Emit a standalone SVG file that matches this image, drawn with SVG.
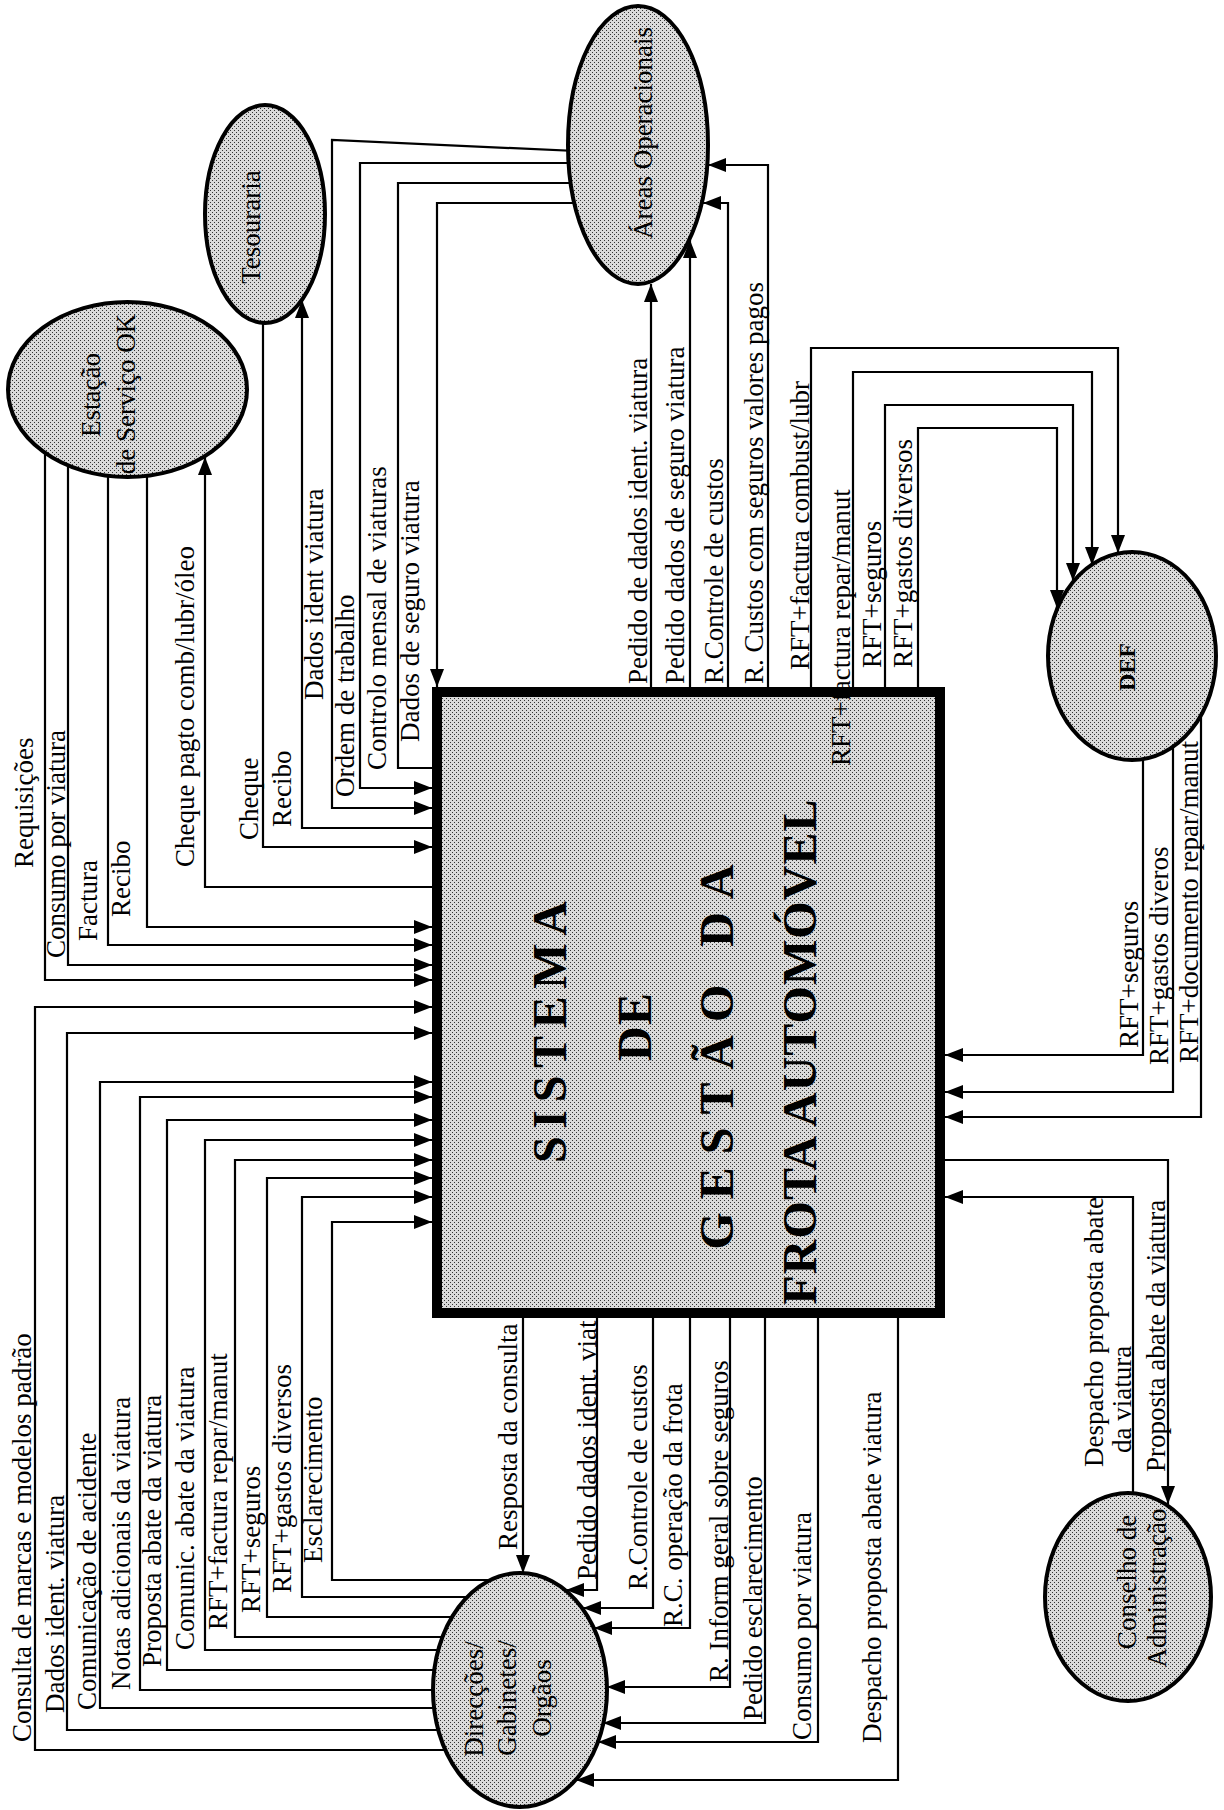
<svg xmlns="http://www.w3.org/2000/svg" width="1224" height="1810" viewBox="0 0 1224 1810">
  <defs>
    <!-- halftone fill used by the processes and external entities -->
    <pattern id="ht" width="4" height="4" patternUnits="userSpaceOnUse">
      <rect width="4" height="4" fill="#dadada"/>
      <rect width="1" height="1" fill="#333"/>
      <rect x="2" y="2" width="1" height="1" fill="#333"/>
    </pattern>
    <marker id="ah" markerUnits="userSpaceOnUse" viewBox="0 0 18 14" markerWidth="18" markerHeight="14" refX="18" refY="7" orient="auto">
      <path d="M0,0 L18,7 L0,14 z" fill="#000"/>
    </marker>
    <style>
      .flow { fill: none; stroke: #000; stroke-width: 2.2; }
      .arr { marker-end: url(#ah); }
      .ent { fill: url(#ht); stroke: #000; stroke-width: 4; }
      .lbl { font-family: "Liberation Serif", "Times New Roman", serif; font-size: 27px; fill: #000; }
      .nlbl { font-family: "Liberation Serif", "Times New Roman", serif; font-size: 27px; fill: #000; text-anchor: middle; }
      .title { font-family: "Liberation Serif", "Times New Roman", serif; font-size: 48px; font-weight: bold; fill: #000; text-anchor: middle; }
    </style>
  </defs>

  <rect width="1224" height="1810" fill="#fff"/>

  <!-- data flows -->
  <g id="connectors">
    <!-- Estação de Serviço OK -->
    <path class="flow arr" d="M45,400 V980 H432"/>
    <path class="flow arr" d="M68,400 V965 H432"/>
    <path class="flow arr" d="M108,400 V945 H432"/>
    <path class="flow arr" d="M147,400 V927 H432"/>
    <path class="flow arr" d="M432,887 H205 V457"/>
    <!-- Tesouraria -->
    <path class="flow arr" d="M263,220 V847 H432"/>
    <path class="flow arr" d="M432,828 H302 V300"/>
    <!-- Áreas Operacionais -> sistema -->
    <path class="flow arr" d="M620,153 L332,140 V808 H432"/>
    <path class="flow arr" d="M620,163 H360 V788 H432"/>
    <path class="flow" d="M620,183 H398 V768 H432"/>
    <path class="flow arr" d="M620,203 H437 V687"/>
    <!-- sistema -> Áreas Operacionais -->
    <path class="flow arr" d="M651,687 V284"/>
    <path class="flow arr" d="M690,687 V240"/>
    <path class="flow arr" d="M728,687 V203 H703"/>
    <path class="flow arr" d="M768,687 V165 H708"/>
    <!-- sistema -> DEF -->
    <path class="flow arr" d="M811,687 V348 H1118 V553"/>
    <path class="flow arr" d="M853,687 V372 H1092 V565"/>
    <path class="flow arr" d="M885,687 V405 H1073 V581"/>
    <path class="flow arr" d="M918,687 V428 H1057 V608"/>
    <!-- DEF -> sistema -->
    <path class="flow arr" d="M1143,680 V1055 H945"/>
    <path class="flow arr" d="M1173,680 V1092 H945"/>
    <path class="flow arr" d="M1201,680 V1117 H945"/>
    <!-- Conselho de Administração -->
    <path class="flow arr" d="M945,1160 H1168 V1504"/>
    <path class="flow arr" d="M1133,1600 V1197 H945"/>
    <!-- sistema -> Direcções -->
    <path class="flow arr" d="M523,1318 V1573"/>
    <path class="flow arr" d="M597,1318 V1590 H566"/>
    <path class="flow arr" d="M653,1318 V1608 H583"/>
    <path class="flow arr" d="M690,1318 V1628 H594"/>
    <path class="flow arr" d="M730,1318 V1687 H607"/>
    <path class="flow arr" d="M765,1318 V1723 H603"/>
    <path class="flow arr" d="M818,1318 V1742 H598"/>
    <path class="flow arr" d="M898,1318 V1780 H576"/>
    <!-- Direcções -> sistema -->
    <path class="flow arr" d="M520,1750 H35 V1007 H432"/>
    <path class="flow arr" d="M520,1730 H67 V1033 H432"/>
    <path class="flow arr" d="M520,1708 H100 V1082 H432"/>
    <path class="flow arr" d="M520,1690 H140 V1097 H432"/>
    <path class="flow arr" d="M520,1670 H167 V1120 H432"/>
    <path class="flow arr" d="M520,1650 H205 V1140 H432"/>
    <path class="flow arr" d="M520,1637 H235 V1160 H432"/>
    <path class="flow arr" d="M520,1617 H267 V1178 H432"/>
    <path class="flow arr" d="M520,1597 H302 V1197 H432"/>
    <path class="flow arr" d="M520,1580 H332 V1222 H432"/>
  </g>

  <!-- external entities -->
  <g id="estacao">
    <ellipse class="ent" cx="127.5" cy="389.5" rx="119.5" ry="87.5"/>
    <text class="nlbl" transform="translate(100,395) rotate(-90)">Estação</text>
    <text class="nlbl" transform="translate(135,394) rotate(-90)">de Serviço OK</text>
  </g>
  <g id="tesouraria">
    <ellipse class="ent" cx="265" cy="214" rx="60" ry="109"/>
    <text class="nlbl" transform="translate(260,227) rotate(-90)">Tesouraria</text>
  </g>
  <g id="areas-operacionais">
    <ellipse class="ent" cx="638" cy="145" rx="70" ry="139"/>
    <text class="nlbl" transform="translate(652,133) rotate(-90)">Áreas Operacionais</text>
  </g>
  <g id="def">
    <ellipse class="ent" cx="1132" cy="656" rx="84" ry="104"/>
    <text class="nlbl" style="font-size:24px;font-weight:bold" transform="translate(1135,667) rotate(-90)">DEF</text>
  </g>
  <g id="conselho">
    <ellipse class="ent" cx="1128" cy="1597" rx="83" ry="104"/>
    <text class="nlbl" transform="translate(1136,1582) rotate(-90)">Conselho de</text>
    <text class="nlbl" transform="translate(1166,1588) rotate(-90)">Administração</text>
  </g>
  <g id="direccoes">
    <ellipse class="ent" cx="520" cy="1690" rx="87" ry="117"/>
    <text class="nlbl" transform="translate(483,1699) rotate(-90)">Direcções/</text>
    <text class="nlbl" transform="translate(516,1698) rotate(-90)">Gabinetes/</text>
    <text class="nlbl" transform="translate(551,1698) rotate(-90)">Orgãos</text>
  </g>

  <!-- central process -->
  <g id="sistema">
    <rect x="437" y="692" width="503" height="621" fill="url(#ht)" stroke="#000" stroke-width="10"/>
    <text class="title" transform="translate(566,1032) rotate(-90)" textLength="262" lengthAdjust="spacing">SISTEMA</text>
    <text class="title" transform="translate(651,1027) rotate(-90)" textLength="68" lengthAdjust="spacing">DE</text>
    <text class="title" transform="translate(733,1057) rotate(-90)" textLength="385" lengthAdjust="spacing">GESTÃO DA</text>
    <text class="title" transform="translate(816,1052) rotate(-90)" textLength="505" lengthAdjust="spacing">FROTA AUTOMÓVEL</text>
  </g>

  <!-- flow labels -->
  <g id="flow-labels">
    <text class="lbl" transform="translate(33,868) rotate(-90)">Requisições</text>
    <text class="lbl" transform="translate(65,958) rotate(-90)">Consumo por viatura</text>
    <text class="lbl" transform="translate(97,941) rotate(-90)">Factura</text>
    <text class="lbl" transform="translate(130,917) rotate(-90)">Recibo</text>
    <text class="lbl" transform="translate(194,867) rotate(-90)">Cheque pagto comb/lubr/óleo</text>
    <text class="lbl" transform="translate(258,840) rotate(-90)">Cheque</text>
    <text class="lbl" transform="translate(291,827) rotate(-90)">Recibo</text>
    <text class="lbl" transform="translate(323,700) rotate(-90)">Dados ident viatura</text>
    <text class="lbl" transform="translate(354,797) rotate(-90)">Ordem de trabalho</text>
    <text class="lbl" transform="translate(386,770) rotate(-90)">Controlo mensal de viaturas</text>
    <text class="lbl" transform="translate(419,742) rotate(-90)">Dados de seguro viatura</text>

    <text class="lbl" transform="translate(647,684) rotate(-90)">Pedido de dados ident. viatura</text>
    <text class="lbl" transform="translate(684,684) rotate(-90)">Pedido dados de seguro viatura</text>
    <text class="lbl" transform="translate(723,684) rotate(-90)">R.Controle de custos</text>
    <text class="lbl" transform="translate(763,684) rotate(-90)">R. Custos com seguros valores pagos</text>
    <text class="lbl" transform="translate(809,670) rotate(-90)">RFT+factura combust/lubr</text>
    <text class="lbl" transform="translate(850,766) rotate(-90)">RFT+factura repar/manut</text>
    <text class="lbl" transform="translate(881,668) rotate(-90)">RFT+seguros</text>
    <text class="lbl" transform="translate(912,668) rotate(-90)">RFT+gastos diversos</text>

    <text class="lbl" transform="translate(1138,1048) rotate(-90)">RFT+seguros</text>
    <text class="lbl" transform="translate(1168,1065) rotate(-90)">RFT+gastos diveros</text>
    <text class="lbl" transform="translate(1198,1063) rotate(-90)">RFT+documento repar/manut</text>
    <text class="lbl" transform="translate(1103,1467) rotate(-90)">Despacho proposta abate</text>
    <text class="lbl" transform="translate(1131,1453) rotate(-90)">da viatura</text>
    <text class="lbl" transform="translate(1165,1472) rotate(-90)">Proposta abate da viatura</text>

    <text class="lbl" transform="translate(517,1550) rotate(-90)">Resposta da consulta</text>
    <text class="lbl" transform="translate(596,1580) rotate(-90)">Pedido dados ident. viat</text>
    <text class="lbl" transform="translate(647,1590) rotate(-90)">R.Controle de custos</text>
    <text class="lbl" transform="translate(682,1627) rotate(-90)">R.C. operação da frota</text>
    <text class="lbl" transform="translate(728,1682) rotate(-90)">R. Inform geral sobre seguros</text>
    <text class="lbl" transform="translate(762,1720) rotate(-90)">Pedido esclarecimento</text>
    <text class="lbl" transform="translate(811,1740) rotate(-90)">Consumo por viatura</text>
    <text class="lbl" transform="translate(881,1743) rotate(-90)">Despacho proposta abate viatura</text>

    <text class="lbl" transform="translate(31,1742) rotate(-90)">Consulta de marcas e modelos padrão</text>
    <text class="lbl" transform="translate(64,1713) rotate(-90)">Dados ident. viatura</text>
    <text class="lbl" transform="translate(96,1710) rotate(-90)">Comunicação de acidente</text>
    <text class="lbl" transform="translate(130,1690) rotate(-90)">Notas adicionais da viatura</text>
    <text class="lbl" transform="translate(161,1667) rotate(-90)">Proposta abate da viatura</text>
    <text class="lbl" transform="translate(194,1650) rotate(-90)">Comunic. abate da viatura</text>
    <text class="lbl" transform="translate(227,1630) rotate(-90)">RFT+factura repar/manut</text>
    <text class="lbl" transform="translate(260,1613) rotate(-90)">RFT+seguros</text>
    <text class="lbl" transform="translate(291,1593) rotate(-90)">RFT+gastos diversos</text>
    <text class="lbl" transform="translate(322,1563) rotate(-90)">Esclarecimento</text>
  </g>
</svg>
